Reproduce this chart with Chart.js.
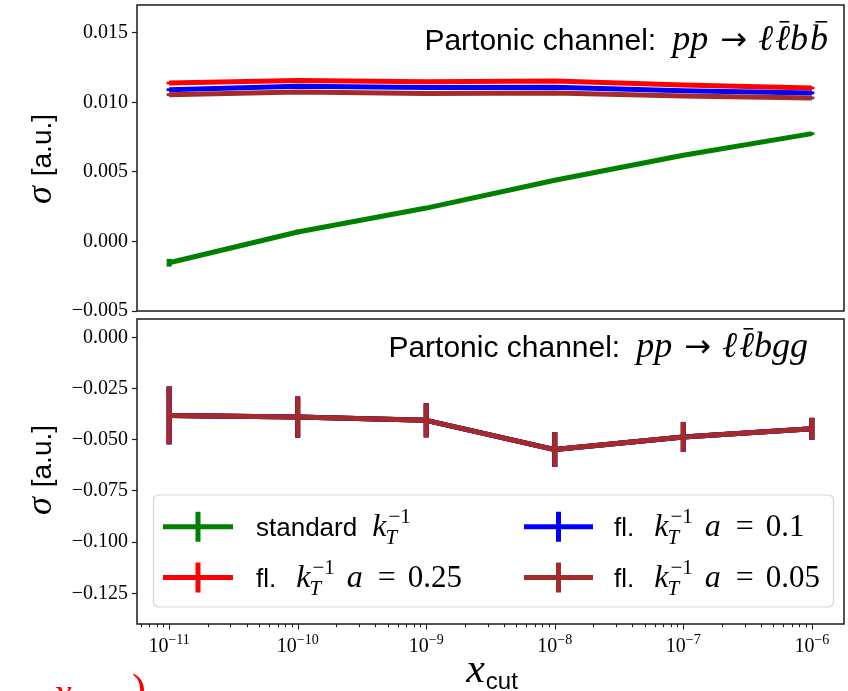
<!DOCTYPE html>
<html>
<head>
<meta charset="utf-8">
<script src="https://cdn.jsdelivr.net/npm/chart.js@4.4.1/dist/chart.umd.min.js"></script>
<style>
  html, body { margin: 0; padding: 0; background: #fff; }
  #wrap { position: relative; width: 848px; height: 691px; overflow: hidden; }
  #topChart { position: absolute; left: 0; top: 0; }
  #botChart { position: absolute; left: 0; top: 318px; }
</style>
</head>
<body>
<div id="wrap">
  <canvas id="topChart" width="848" height="318"></canvas>
  <canvas id="botChart" width="848" height="373"></canvas>
</div>
<script>
// x_cut values (log axis) and decade tick exponents
const xCut = [1e-11, 1e-10, 1e-9, 1e-8, 1e-7, 1e-6];
const xTickExps = [-11, -10, -9, -8, -7, -6];

const seriesColors = ['#008000', '#ff0000', '#0000ff', '#a52a2a'];
const aValues = [null, '0.25', '0.1', '0.05'];

// top panel: pp -> l lbar b bbar
const bbStandard = [-0.00153, 0.00068, 0.0024, 0.0044, 0.0062, 0.00775];
const bbA025 = [0.01139, 0.01158, 0.01149, 0.01154, 0.01125, 0.01103];
const bbA01 = [0.01091, 0.01115, 0.01106, 0.01108, 0.01084, 0.01068];
const bbA005 = [0.01055, 0.01075, 0.01063, 0.01068, 0.01046, 0.01032];
const bbErrStandard = [0.00028, 0.00016, 0.0001, 0.0001, 0.0001, 0.0001];
const bbErrFl = [0.0001, 0.0001, 0.0001, 0.0001, 0.0001, 0.0001];
const yTicksTop = [-0.005, 0.0, 0.005, 0.010, 0.015];

// bottom panel: pp -> l lbar b g g (all four curves coincide)
const bgStandard = [-0.0381, -0.0389, -0.0405, -0.0548, -0.0486, -0.0446];
const bgA025 = [-0.0381, -0.0389, -0.0405, -0.0548, -0.0486, -0.0446];
const bgA01 = [-0.0381, -0.0389, -0.0405, -0.0548, -0.0486, -0.0446];
const bgA005 = [-0.0381, -0.0389, -0.0405, -0.0548, -0.0486, -0.0446];
const bgErr = [0.0141, 0.0100, 0.0083, 0.0085, 0.0073, 0.0053];
const yTicksBot = [-0.125, -0.100, -0.075, -0.050, -0.025, 0.0];

const SANS = '"Liberation Sans", Arial, sans-serif';
const SERIF = '"Liberation Serif", "Times New Roman", serif';
const MI = s => 'italic ' + s + 'px ' + SERIF;
const MR = s => s + 'px ' + SERIF;
const SS = s => s + 'px ' + SANS;
const ARROW = s => s + 'px "DejaVu Sans", sans-serif';
const INK = '#1a1a1a';

const X_MIN = Math.pow(10, -11.25), X_MAX = Math.pow(10, -5.75);

// draw a row of text pieces with different fonts
function rich(ctx, parts, x, y, align) {
  let w = 0;
  for (const p of parts) {
    if (p.stack) {
      ctx.font = p.supF; const a = ctx.measureText(p.sup).width;
      ctx.font = p.subF; const b = ctx.measureText(p.sub).width + (p.subDx || 0);
      p.w = Math.max(a, b);
    } else {
      ctx.font = p.f; p.w = ctx.measureText(p.t).width;
    }
    w += p.w + (p.gap || 0);
  }
  let cx = align === 'right' ? x - w : align === 'center' ? x - w / 2 : x;
  ctx.textAlign = 'left';
  ctx.textBaseline = 'alphabetic';
  for (const p of parts) {
    if (p.stack) {
      ctx.font = p.supF; ctx.fillText(p.sup, cx, y + p.supDy);
      ctx.font = p.subF; ctx.fillText(p.sub, cx + (p.subDx || 0), y + p.subDy);
    } else {
      ctx.font = p.f; ctx.fillText(p.t, cx, y + (p.dy || 0));
      if (p.bar) ctx.fillRect(cx + p.w * p.bar[0], y - p.bar[2], p.w * (p.bar[1] - p.bar[0]), 1.6);
    }
    cx += p.w + (p.gap || 0);
  }
  return w;
}

function kTinv(gap) {
  return [
    { t: 'k', f: MI(32), gap: 2 },
    { stack: true, sup: '\u22121', supF: MR(21), supDy: -13, sub: 'T', subF: MI(21), subDx: -3, subDy: 8, gap: gap }
  ];
}

function legendParts(i) {
  if (aValues[i] === null) return [{ t: 'standard', f: SS(26), gap: 15 }].concat(kTinv(0));
  return [{ t: 'fl.', f: SS(26), gap: 20 }].concat(kTinv(12), [
    { t: 'a', f: MI(32), gap: 15 },
    { t: '=', f: MR(32), gap: 12 },
    { t: aValues[i], f: MR(31) }
  ]);
}

function makeDatasets(values, errors) {
  return values.map((vals, i) => ({
    label: 'series ' + i,
    data: xCut.map((x, j) => ({ x: x, y: vals[j] })),
    errors: errors[i],
    order: values.length - i,
    borderColor: seriesColors[i],
    backgroundColor: seriesColors[i],
    borderWidth: 5,
    borderJoinStyle: 'round',
    pointRadius: 0,
    tension: 0,
    fill: false
  }));
}

const errorBars = {
  id: 'errorBars',
  afterDatasetDraw(chart, args) {
    const ds = chart.data.datasets[args.index];
    if (!ds.errors) return;
    const xs = chart.scales.x, ys = chart.scales.y, ctx = chart.ctx, ca = chart.chartArea;
    ctx.save();
    ctx.beginPath();
    ctx.rect(ca.left, ca.top, ca.right - ca.left, ca.bottom - ca.top);
    ctx.clip();
    ctx.strokeStyle = ds.borderColor;
    ctx.lineWidth = 5;
    ds.data.forEach((p, j) => {
      const px = xs.getPixelForValue(p.x);
      ctx.beginPath();
      ctx.moveTo(px, ys.getPixelForValue(p.y - ds.errors[j]));
      ctx.lineTo(px, ys.getPixelForValue(p.y + ds.errors[j]));
      ctx.stroke();
    });
    ctx.restore();
  }
};

const decor = {
  id: 'decor',
  afterDraw(chart) {
    const o = chart.options.plugins.decor;
    const ctx = chart.ctx, ca = chart.chartArea;
    ctx.save();
    // frame
    ctx.strokeStyle = INK;
    ctx.lineWidth = 1.5;
    ctx.strokeRect(ca.left, ca.top, ca.right - ca.left, ca.bottom - ca.top);
    ctx.fillStyle = '#000';
    // channel annotation
    rich(ctx, o.channel, o.chanX, o.chanY, 'right');
    // y axis title
    ctx.save();
    ctx.translate(51, o.yTitleY);
    ctx.rotate(-Math.PI / 2);
    rich(ctx, [{ t: '\u03c3', f: MI(36), gap: 10 }, { t: '[a.u.]', f: SS(28) }], 0, 0, 'center');
    ctx.restore();
    if (o.bottom) drawBottomExtras(chart);
    ctx.restore();
  }
};

function drawBottomExtras(chart) {
  const ctx = chart.ctx, ca = chart.chartArea, xs = chart.scales.x;
  // x ticks and labels
  ctx.strokeStyle = INK;
  ctx.lineWidth = 1;
  for (let e = -12; e <= -6; e++) {
    for (let m = 1; m <= 9; m++) {
      const v = m * Math.pow(10, e);
      if (v < X_MIN || v > X_MAX) continue;
      const px = Math.round(xs.getPixelForValue(v)) + 0.5;
      ctx.beginPath();
      ctx.moveTo(px, ca.bottom);
      ctx.lineTo(px, ca.bottom + (m === 1 ? 5.5 : 3.2));
      ctx.stroke();
    }
  }
  ctx.fillStyle = '#000';
  xTickExps.forEach(e => {
    const px = xs.getPixelForValue(Math.pow(10, e));
    rich(ctx, [
      { t: '10', f: MR(20) },
      { t: '\u2212' + Math.abs(e), f: MR(14), dy: -8 }
    ], px, 334, 'center');
  });
  // x axis title
  rich(ctx, [{ t: 'x', f: MI(42), gap: 1 }, { t: 'cut', f: SS(24), dy: 7 }], 492, 364, 'center');

  // legend
  const L = { x: 153.5, y: 177, w: 680, h: 112 };
  ctx.save();
  ctx.beginPath();
  ctx.roundRect(L.x, L.y, L.w, L.h, 5);
  ctx.fillStyle = 'rgba(255,255,255,0.8)';
  ctx.fill();
  ctx.strokeStyle = '#d5d5d5';
  ctx.lineWidth = 1.2;
  ctx.stroke();
  ctx.restore();
  const cols = [{ h0: 163, h1: 233, tx: 256 }, { h0: 524, h1: 593, tx: 614 }];
  const rows = [208.7, 259.5];
  chart.data.datasets.forEach((ds, i) => {
    const c = cols[Math.floor(i / 2)], ry = rows[i % 2];
    ctx.strokeStyle = ds.borderColor;
    ctx.lineWidth = 5;
    ctx.beginPath();
    ctx.moveTo(c.h0, ry); ctx.lineTo(c.h1, ry);
    ctx.moveTo((c.h0 + c.h1) / 2, ry - 15); ctx.lineTo((c.h0 + c.h1) / 2, ry + 15);
    ctx.stroke();
    ctx.fillStyle = '#000';
    rich(ctx, legendParts(i), c.tx, ry + 9, 'left');
  });

  // stray red marks at the bottom edge of the crop
  ctx.fillStyle = '#ff0000';
  ctx.font = MI(40);
  ctx.fillText('x', 54, 388);
  ctx.font = MR(42);
  ctx.fillText(')', 132, 385);
}

function bar(t) { return { t: t, f: MI(36), bar: [0.3, 0.95, 29] }; }

function channelParts(last) {
  return [
    { t: 'Partonic channel:', f: SS(30), gap: 16 },
    { t: 'pp', f: MI(36), gap: 12 },
    { t: '\u2192', f: ARROW(32), gap: 11 },
    { t: '\u2113', f: MI(36), gap: 2 },
    bar('\u2113')
  ].concat(last);
}

function yAxis(ticks, min, max) {
  return {
    min: min, max: max,
    afterFit(scale) {
      scale.width = 137;
      scale.paddingTop = 0;
      scale.paddingBottom = 0;
    },
    afterBuildTicks(scale) { scale.ticks = ticks.map(v => ({ value: v })); },
    border: { display: false },
    grid: { drawOnChartArea: false, drawTicks: true, tickLength: 5, tickColor: INK, tickWidth: 1.2 },
    ticks: {
      padding: 4,
      color: '#000',
      font: { family: '"Liberation Serif", serif', size: 20 },
      callback: v => v.toFixed(3).replace('-', '\u2212')
    }
  };
}

new Chart(document.getElementById('topChart'), {
  type: 'line',
  data: { datasets: makeDatasets([bbStandard, bbA025, bbA01, bbA005], [bbErrStandard, bbErrFl, bbErrFl, bbErrFl]) },
  options: {
    responsive: false,
    animation: false,
    layout: { padding: { top: 5, bottom: 7, right: 4, left: 0 } },
    plugins: {
      legend: { display: false },
      tooltip: { enabled: false },
      decor: {
        channel: channelParts([{ t: 'b', f: MI(36), gap: 2 }, bar('b')]),
        chanX: 828, chanY: 50, yTitleY: 159, bottom: false
      }
    },
    scales: {
      x: { type: 'logarithmic', min: X_MIN, max: X_MAX, display: false },
      y: yAxis(yTicksTop, -0.005, 0.017)
    }
  },
  plugins: [errorBars, decor]
});

new Chart(document.getElementById('botChart'), {
  type: 'line',
  data: { datasets: makeDatasets([bgStandard, bgA025, bgA01, bgA005], [bgErr, bgErr, bgErr, bgErr]) },
  options: {
    responsive: false,
    animation: false,
    layout: { padding: { top: 1, bottom: 0, right: 4, left: 0 } },
    plugins: {
      legend: { display: false },
      tooltip: { enabled: false },
      decor: {
        channel: channelParts([{ t: 'bgg', f: MI(36) }]),
        chanX: 808, chanY: 39, yTitleY: 152, bottom: true
      }
    },
    scales: {
      x: {
        type: 'logarithmic', min: X_MIN, max: X_MAX,
        afterFit(scale) { scale.height = 67; },
        border: { display: false },
        grid: { display: false },
        ticks: { display: false }
      },
      y: yAxis(yTicksBot, -0.14, 0.009)
    }
  },
  plugins: [errorBars, decor]
});
</script>
</body>
</html>
